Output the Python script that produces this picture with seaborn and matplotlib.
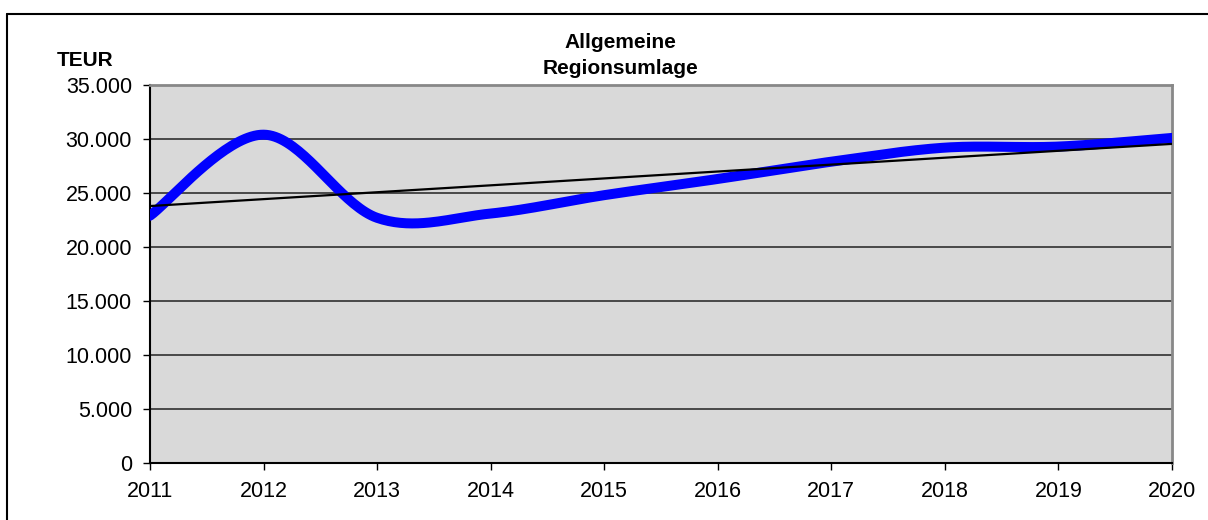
import numpy as np
import pandas as pd
import matplotlib
matplotlib.use('Agg')
import matplotlib.pyplot as plt
from matplotlib.ticker import FuncFormatter
import seaborn as sns

sns.set_theme(style='white')
plt.rcParams['font.family'] = ['Liberation Sans', 'DejaVu Sans']
plt.rcParams['text.color'] = 'black'

# data (TEUR)
years = [2011, 2012, 2013, 2014, 2015, 2016, 2017, 2018, 2019, 2020]
umlage = [22900, 30400, 22700, 23100, 24800, 26300, 27900, 29200, 29300, 30100]
title_lines = ['Allgemeine', 'Regionsumlage']
y_label = 'TEUR'


def smooth_curve(x, y, n=40):
    '''bezier smoothing like the spreadsheet "smoothed line" option'''
    x = np.asarray(x, float)
    y = np.asarray(y, float)
    px = np.concatenate([[x[0]], x, [x[-1]]])
    py = np.concatenate([[y[0]], y, [y[-1]]])
    t = np.linspace(0, 1, n)
    xs, ys = [], []
    for i in range(1, len(px) - 2):
        # control points
        c1x = px[i] + (px[i + 1] - px[i - 1]) / 6
        c1y = py[i] + (py[i + 1] - py[i - 1]) / 6
        c2x = px[i + 1] - (px[i + 2] - px[i]) / 6
        c2y = py[i + 1] - (py[i + 2] - py[i]) / 6
        b0 = (1 - t) ** 3
        b1 = 3 * (1 - t) ** 2 * t
        b2 = 3 * (1 - t) * t ** 2
        b3 = t ** 3
        xs.append(b0 * px[i] + b1 * c1x + b2 * c2x + b3 * px[i + 1])
        ys.append(b0 * py[i] + b1 * c1y + b2 * c2y + b3 * py[i + 1])
    return np.concatenate(xs), np.concatenate(ys)


sx, sy = smooth_curve(years, umlage)
curve = pd.DataFrame({'year': sx, 'value': sy})

# linear trend line
slope, icpt = np.polyfit(years, umlage, 1)
trend = pd.DataFrame({'year': [years[0], years[-1]]})
trend['value'] = slope * trend['year'] + icpt

fig = plt.figure(figsize=(12.08, 5.2), dpi=100)
ax = fig.add_axes([150 / 1208, 57 / 520, 1022 / 1208, 378 / 520])
ax.set_facecolor('#d9d9d9')

for v in range(5000, 35001, 5000):
    ax.axhline(v, color='#303030', lw=1.2, zorder=1)

sns.lineplot(data=curve, x='year', y='value', ax=ax, color='#0000ff',
             lw=7.2, solid_capstyle='round', zorder=3, sort=False)
sns.lineplot(data=trend, x='year', y='value', ax=ax, color='black',
             lw=1.6, zorder=4)

ax.set_xlim(years[0], years[-1])
ax.set_ylim(0, 35000)
ax.set_xticks(years)
ax.set_xticklabels([str(y) for y in years])
ax.set_yticks(range(0, 35001, 5000))
ax.yaxis.set_major_formatter(FuncFormatter(lambda v, p: f'{int(v):,}'.replace(',', '.')))
ax.set_xlabel('')
ax.set_ylabel('')
ax.tick_params(axis='both', direction='out', length=5, width=1, colors='black',
               labelsize=15.5, bottom=True, left=True)
ax.tick_params(axis='x', pad=8)
ax.tick_params(axis='y', pad=8)

for side in ['top', 'right']:
    ax.spines[side].set_color('#888888')
    ax.spines[side].set_linewidth(2)
for side in ['left', 'bottom']:
    ax.spines[side].set_color('black')
    ax.spines[side].set_linewidth(1.5)

fig.text(620 / 1208, 1 - 42 / 520, title_lines[0], ha='center', va='center',
         fontsize=15, fontweight='bold', color='black')
fig.text(620 / 1208, 1 - 68 / 520, title_lines[1], ha='center', va='center',
         fontsize=15, fontweight='bold', color='black')
fig.text(57 / 1208, 1 - 60 / 520, y_label, ha='left', va='center',
         fontsize=15, fontweight='bold', color='black')

# outer frame of the chart object
fig.add_artist(plt.Line2D([7 / 1208, 7 / 1208], [0, 1 - 14 / 520], color='black', lw=1.5,
                          transform=fig.transFigure))
fig.add_artist(plt.Line2D([7 / 1208, 1], [1 - 14 / 520, 1 - 14 / 520], color='black', lw=1.5,
                          transform=fig.transFigure))

fig.savefig('out.png', dpi=100)
